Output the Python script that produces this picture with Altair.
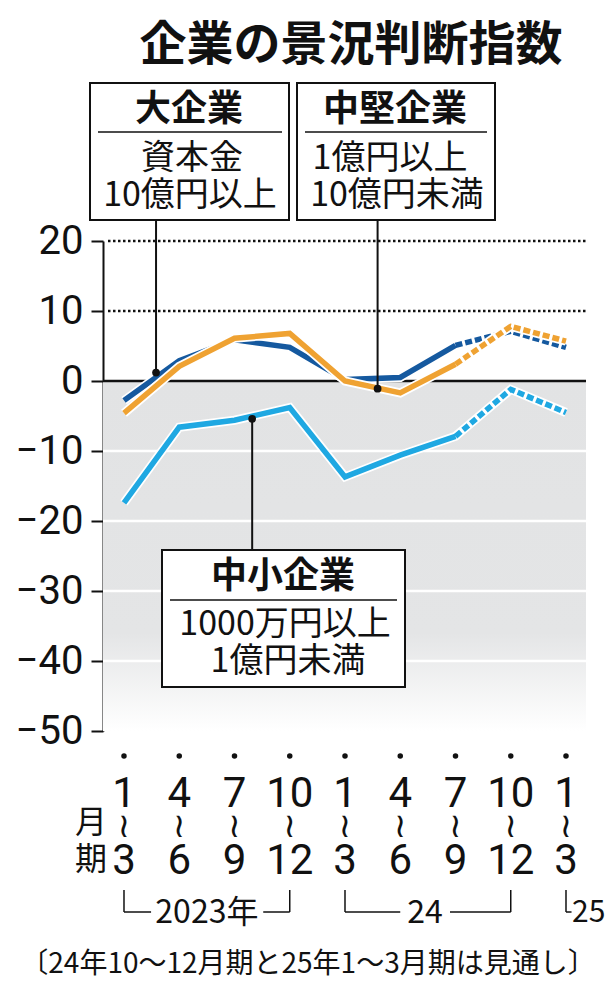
import altair as alt
import pandas as pd

# ---- data ----
idx = [0, 1, 2, 3, 4, 5, 6, 7, 8]
month_top = ["1", "4", "7", "10", "1", "4", "7", "10", "1"]
month_bottom = ["3", "6", "9", "12", "3", "6", "9", "12", "3"]
large = [-2.8, 2.9, 5.9, 4.8, 0.2, 0.5, 5.1, 7.1, 4.8]
midsize = [-4.6, 2.1, 6.1, 6.8, 0.0, -1.7, 2.4, 7.8, 5.7]
small = [-17.4, -6.6, -5.6, -3.8, -13.7, -10.6, -7.9, -1.2, -4.5]
series_names = ["中小企業", "大企業", "中堅企業"]
series_colors = ["#1fa8e2", "#15599f", "#efa232"]
forecast_from = 6  # index from which values are forecasts (dashed)

rows = []
for name, vals in zip(series_names, [small, large, midsize]):
    for i, v in zip(idx, vals):
        rows.append({"series": name, "i": i, "value": v})
df = pd.DataFrame(rows)

W, H = 483, 490
xscale = alt.Scale(domain=[-0.38, 8.362], nice=False, zero=False)
yscale = alt.Scale(domain=[-50, 20], nice=False, zero=False)
yaxis = alt.Axis(values=[20, 10, 0, -10, -20, -30, -40, -50], title=None, grid=False,
                 domainColor="#111", domainWidth=2, tickColor="#111", tickWidth=2,
                 tickSize=12, labelFont="Roboto", labelFontSize=40, labelColor="#111",
                 labelPadding=8, labelFlush=False, labelOverlap=False)
X = lambda f: alt.X(f, scale=xscale, axis=None)
Y = lambda f: alt.Y(f, scale=yscale, axis=yaxis)

one = pd.DataFrame({"d": [0]})

# background below zero with fade
bg = alt.Chart(pd.DataFrame({"top": [0], "bottom": [-50]})).mark_rect(
    fill=alt.Gradient(gradient="linear", x1=0, x2=0, y1=0, y2=1,
                      stops=[alt.GradientStop(color="#e2e3e4", offset=0),
                             alt.GradientStop(color="#e4e5e6", offset=0.72),
                             alt.GradientStop(color="#ffffff", offset=1)])
).encode(y=Y("top:Q"), y2="bottom:Q", x=alt.value(0), x2=alt.value(W))

grid_white = alt.Chart(pd.DataFrame({"v": [-10, -20, -30, -40]})).mark_rule(
    color="white", strokeWidth=2.5).encode(y=Y("v:Q"), x=alt.value(0), x2=alt.value(W))
grid_dot = alt.Chart(pd.DataFrame({"v": [10, 20]})).mark_rule(
    color="#111", strokeWidth=2.5, strokeDash=[2.5, 2.5]).encode(y=Y("v:Q"), x=alt.value(5), x2=alt.value(W))
zero = alt.Chart(pd.DataFrame({"v": [0]})).mark_rule(
    color="#111", strokeWidth=2.5).encode(y=Y("v:Q"), x=alt.value(0), x2=alt.value(W))

line_layers = []
for name, col in zip(series_names, series_colors):
    base = alt.Chart(df).transform_filter(alt.datum.series == name)
    halo = base.mark_line(color="white", strokeWidth=9, strokeCap="butt").encode(
        x=X("i:Q"), y=Y("value:Q"))
    solid = base.transform_filter(alt.datum.i <= forecast_from).mark_line(
        color=col, strokeWidth=5.5, strokeCap="butt").encode(x=X("i:Q"), y=Y("value:Q"))
    dashed = base.transform_filter(alt.datum.i >= forecast_from).mark_line(
        color=col, strokeWidth=5.5, strokeDash=[7, 3], strokeCap="butt").encode(
        x=X("i:Q"), y=Y("value:Q"))
    line_layers += [halo, solid, dashed]

# leader lines (anchor on line, end at box edge in data units)
leaders = pd.DataFrame({"i": [0.58, 4.59, 2.32], "v": [1.2, -1.1, -5.4], "vend": [23.0, 23.0, -24.1]})
lead_rule = alt.Chart(leaders).mark_rule(color="#111", strokeWidth=2).encode(
    x=X("i:Q"), y=Y("v:Q"), y2="vend:Q")
lead_dot = alt.Chart(leaders).mark_circle(color="#111", size=60, opacity=1).encode(
    x=X("i:Q"), y=Y("v:Q"))


def box(x1, x2, y1, y2):
    return alt.Chart(one).mark_rect(fill="white", stroke="#111", strokeWidth=2).encode(
        x=alt.value(x1), x2=alt.value(x2), y=alt.value(y1), y2=alt.value(y2))


def hline(x1, x2, y, w=1.5):
    return alt.Chart(one).mark_rule(color="#111", strokeWidth=w).encode(
        x=alt.value(x1), x2=alt.value(x2), y=alt.value(y))


def label(t, x, y, size, weight="normal", font="Noto Sans CJK JP", align="center"):
    return alt.Chart(pd.DataFrame({"t": [t]})).mark_text(
        font=font, fontSize=size, fontWeight=weight, color="#111", align=align,
        baseline="middle").encode(text="t:N", x=alt.value(x), y=alt.value(y))


annots = [
    box(-13, 186, -158, -21), hline(-5, 179, -109),
    label("大企業", 86, -131, 36, "bold"),
    label("資本金", 89, -82, 34),
    label("10億円以上", 87, -45, 34),
    box(194, 392, -158, -21), hline(202, 384, -109),
    label("中堅企業", 292, -131, 36, "bold"),
    label("1億円以上", 287, -82, 34),
    label("10億円未満", 294, -45, 34),
    box(59, 302, 309, 446), hline(67, 294, 359),
    label("中小企業", 180, 336, 36, "bold"),
    label("1000万円以上", 182, 384, 34),
    label("1億円未満", 185, 421, 34),
    label("企業の景況判断指数", 248, -195, 47, "bold"),
    label("月", -12, 582, 32),
    label("期", -12, 619, 32),
    label("〔24年10〜12月期と25年1〜3月期は見通し〕", 205, 724, 28),
]

# x axis labels through x scale
xl = pd.DataFrame({"i": idx, "top": month_top, "bottom": month_bottom, "w": ["≀"] * 9})
xdots = alt.Chart(xl).mark_circle(color="#111", size=30, opacity=1).encode(x=X("i:Q"), y=alt.value(515))
xtop = alt.Chart(xl).mark_text(font="Roboto", fontSize=42, color="#111", baseline="middle").encode(
    x=X("i:Q"), y=alt.value(553), text="top:N")
xwave = alt.Chart(xl).mark_text(font="DejaVu Sans", fontSize=34, color="#111", baseline="middle").encode(
    x=X("i:Q"), y=alt.value(586), text="w:N")
xbot = alt.Chart(xl).mark_text(font="Roboto", fontSize=42, color="#111", baseline="middle").encode(
    x=X("i:Q"), y=alt.value(620), text="bottom:N")

# year brackets
year_ticks = pd.DataFrame({"i": [0, 3, 4, 7, 8]})
yt = alt.Chart(year_ticks).mark_rule(color="#111", strokeWidth=1.5).encode(
    x=X("i:Q"), y=alt.value(649), y2=alt.value(671))
seg = pd.DataFrame({"a": [0, 2.52, 4, 5.9, 8], "b": [0.49, 3, 5.0, 7, 8.1]})
ys = alt.Chart(seg).mark_rule(color="#111", strokeWidth=1.5).encode(
    x=X("a:Q"), x2="b:Q", y=alt.value(671))
years = pd.DataFrame({"i": [1.5, 5.45, 8.11], "t": ["2023年", "24", "25"], "al": ["center", "center", "left"]})
yl1 = alt.Chart(years).transform_filter(alt.datum.al == "center").mark_text(
    font="Noto Sans CJK JP", fontSize=32, color="#111", baseline="middle").encode(
    x=X("i:Q"), y=alt.value(672), text="t:N")
yl2 = alt.Chart(years).transform_filter(alt.datum.al == "left").mark_text(
    font="Noto Sans CJK JP", fontSize=30, color="#111", baseline="middle", align="left").encode(
    x=X("i:Q"), y=alt.value(672), text="t:N")

chart = alt.layer(
    bg, grid_white, grid_dot, zero, *line_layers, lead_rule, lead_dot,
    *annots, xdots, xtop, xwave, xbot, yt, ys, yl1, yl2
).properties(
    width=W, height=H,
    autosize=alt.AutoSizeParams(type="none"),
    padding={"left": 95, "top": 233, "right": 22, "bottom": 255},
).configure_view(stroke=None)

chart.save("out.html", embed_options={"renderer": "svg", "actions": False})
